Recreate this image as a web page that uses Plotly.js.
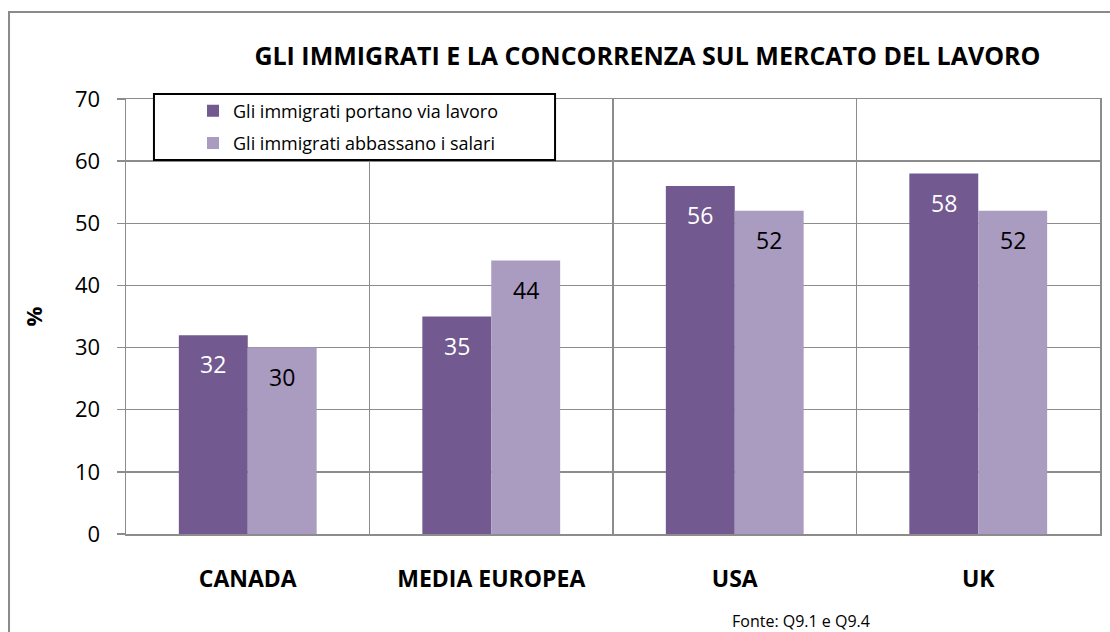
<!DOCTYPE html>
<html>
<head>
<meta charset="utf-8">
<script src="https://cdn.plot.ly/plotly-3.0.1.min.js"></script>
<style>
    html, body { margin: 0; padding: 0; background: #ffffff; }
    #chart-container { width: 1110px; height: 632px; }
</style>
</head>
<body>
<div id="chart-container"></div>
<script>
// Data
const categories = ['CANADA', 'MEDIA EUROPEA', 'USA', 'UK'];
const seriesNames = ['Gli immigrati portano via lavoro', 'Gli immigrati abbassano i salari'];
const portanoViaLavoro = [32, 35, 56, 58];
const abbassanoSalari = [30, 44, 52, 52];
const yTicks = [0, 10, 20, 30, 40, 50, 60, 70];

const DARK = '#72598F';
const LIGHT = '#AA9BC0';
const GRID = '#8c8c8c';
const FONT = 'Open Sans, Lato, sans-serif';

/**
 * Builds the value labels that sit inside the top of each bar.
 * @param {number[]} values
 * @param {number} shift horizontal offset from the category centre (px)
 * @param {string} color
 */
function barLabels(values, shift, color) {
    return values.map((v, i) => ({
        x: categories[i],
        y: v,
        xref: 'x',
        yref: 'y',
        text: String(v),
        showarrow: false,
        xshift: shift,
        yshift: -29,
        yanchor: 'middle',
        font: { family: FONT, size: 23, color: color }
    }));
}

const plotData = [
    {
        type: 'bar',
        name: seriesNames[0],
        legendgroup: 'a',
        x: categories,
        y: portanoViaLavoro,
        marker: { color: DARK },
        hoverinfo: 'none'
    },
    {
        type: 'bar',
        name: seriesNames[1],
        legendgroup: 'b',
        x: categories,
        y: abbassanoSalari,
        marker: { color: LIGHT },
        hoverinfo: 'none'
    }
];

const annotations = [
    ...barLabels(portanoViaLavoro, -34.5, '#ffffff'),
    ...barLabels(abbassanoSalari, 34.5, '#000000'),
    {
        text: 'Fonte: Q9.1 e Q9.4',
        xref: 'paper', yref: 'paper',
        x: 0.6935, y: -0.2,
        xanchor: 'center', yanchor: 'middle',
        showarrow: false,
        font: { family: FONT, size: 16, color: '#000000' }
    }
];

const layout = {
    width: 1110,
    height: 632,
    margin: { l: 126, r: 10, t: 99, b: 98 },
    paper_bgcolor: '#ffffff',
    plot_bgcolor: '#ffffff',
    font: { family: FONT, color: '#000000' },
    title: {
        text: '<b>GLI IMMIGRATI E LA CONCORRENZA SUL MERCATO DEL LAVORO</b>',
        xref: 'container', yref: 'container',
        x: 0.5833, y: 0.911,
        xanchor: 'center', yanchor: 'middle',
        font: { family: FONT, size: 25, color: '#000000' }
    },
    barmode: 'group',
    bargap: 0.434,
    bargroupgap: 0,
    xaxis: {
        type: 'category',
        tickson: 'boundaries',
        ticks: '',
        showgrid: true,
        gridcolor: GRID,
        gridwidth: 1.5,
        showline: true,
        linecolor: GRID,
        linewidth: 1.5,
        mirror: true,
        ticklabelstandoff: 24,
        tickfont: { family: FONT, size: 23, weight: 'bold', color: '#000000' },
        fixedrange: true
    },
    yaxis: {
        range: [0, 70],
        tickvals: yTicks,
        ticks: 'outside',
        ticklen: 8,
        tickwidth: 1.5,
        tickcolor: GRID,
        showgrid: true,
        gridcolor: GRID,
        gridwidth: 1.5,
        zeroline: false,
        showline: true,
        linecolor: GRID,
        linewidth: 1.5,
        mirror: true,
        ticklabelstandoff: 12,
        tickfont: { family: FONT, size: 22, color: '#000000' },
        title: {
            text: '<b>%</b>',
            standoff: 26,
            font: { family: FONT, size: 22, color: '#000000' }
        },
        fixedrange: true
    },
    showlegend: true,
    legend: {
        x: 0.0688,
        y: 0.9356,
        xanchor: 'left',
        yanchor: 'middle',
        bgcolor: 'rgba(0,0,0,0)',
        borderwidth: 0,
        itemwidth: 30,
        tracegroupgap: 6,
        itemclick: false,
        font: { family: FONT, size: 18, color: '#000000' }
    },
    shapes: [
        // legend frame
        {
            type: 'rect', xref: 'paper', yref: 'paper', layer: 'above',
            x0: 0.0287, x1: 0.4405, y0: 0.8598, y1: 1.0115,
            fillcolor: '#ffffff',
            line: { color: '#000000', width: 2 }
        },
        // outer chart frame
        {
            type: 'rect', xref: 'paper', yref: 'paper', layer: 'below',
            x0: -0.1201, x1: 1.02, y0: -0.25, y1: 1.2,
            line: { color: '#8a8a8a', width: 2 }
        }
    ],
    annotations: annotations
};

Plotly.newPlot('chart-container', plotData, layout, { displayModeBar: false, staticPlot: true });
</script>
</body>
</html>
